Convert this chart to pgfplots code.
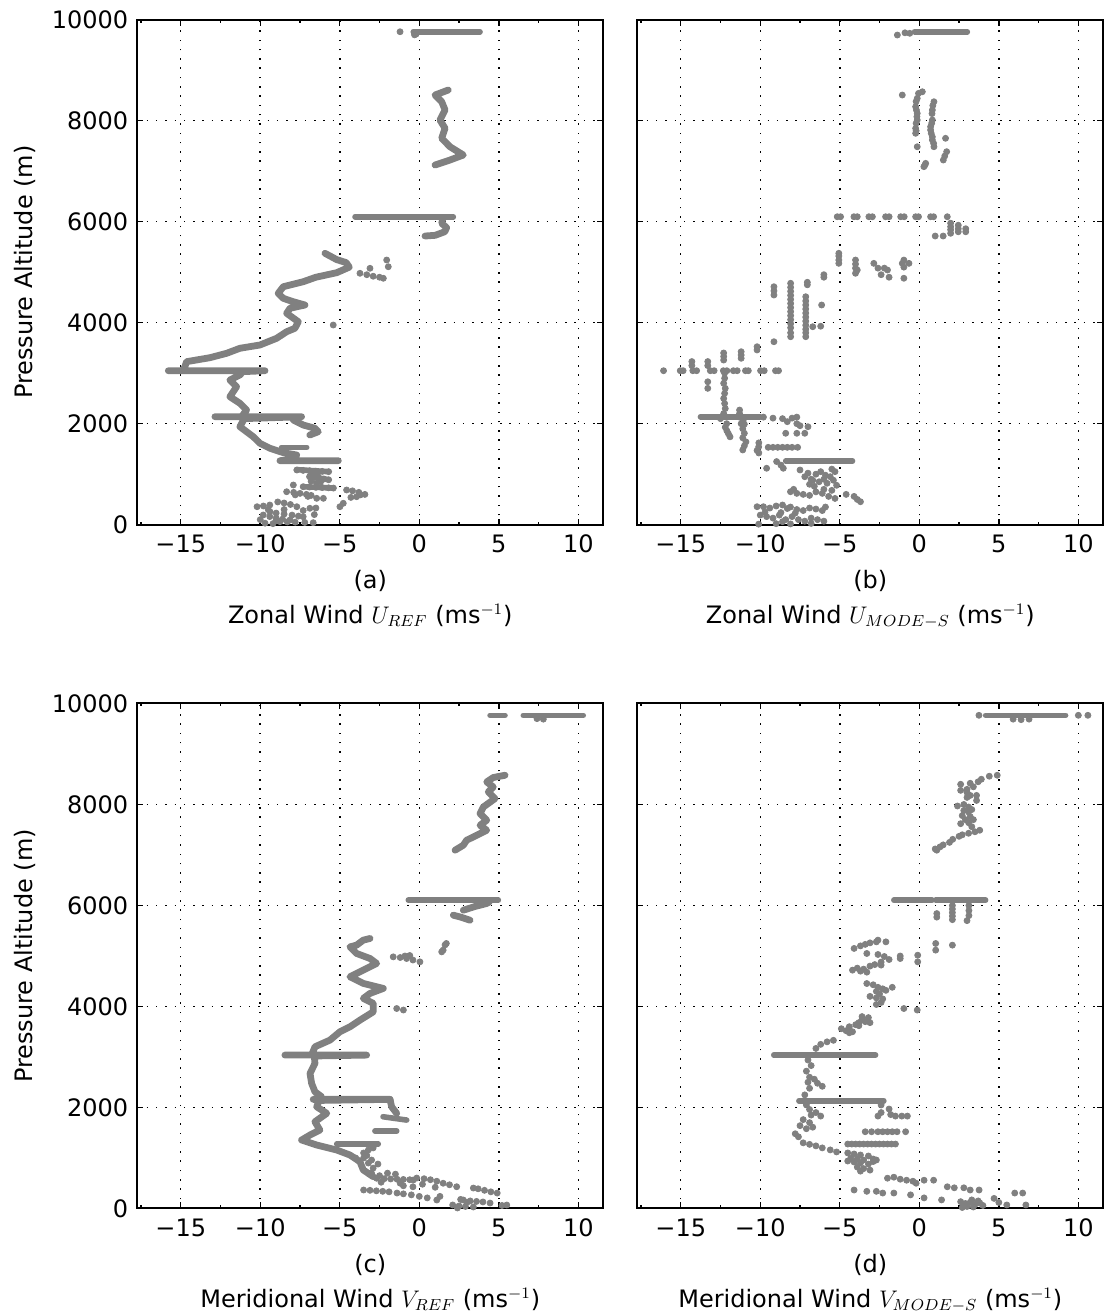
\documentclass[border=0pt]{standalone}
\usepackage{pgfplots}
\pgfplotsset{compat=1.18}
\usepackage{fontspec}
\setmainfont{DejaVu Sans}
\pgfplotsset{
  trace/.style={draw=gray, line width=3.4pt, line cap=round, line join=round, mark=none},
  bar/.style={draw=gray, line width=2.8pt, line cap=round, mark=none},
  dots/.style={only marks, mark=*, mark size=1.5pt, draw=gray, fill=gray, mark options={draw=gray, fill=gray}},
  panel/.style={
    width=233pt, height=252.5pt, scale only axis,
    xmin=-17.73, xmax=11.57, ymin=0, ymax=10000,
    xtick={-15,-10,-5,0,5,10},
    xticklabels={−15,−10,−5,0,5,10},
    minor xtick={-17.5,-12.5,-7.5,-2.5,2.5,7.5},
    ytick={0,2000,4000,6000,8000,10000},
    scaled y ticks=false, scaled x ticks=false,
    tick pos=both, tick align=inside,
    major tick length=3pt, minor tick length=1.5pt,
    every tick/.style={black, line width=0.7pt},
    grid=major,
    major grid style={black, line width=0.75pt, dash pattern=on 0.75pt off 3.9pt},
    axis line style={line width=1pt},
    tick label style={font=\fontsize{12}{14.4}\selectfont},
    label style={font=\fontsize{12}{17.5}\selectfont},
    xlabel style={at={(axis description cs:0.5,-0.076)}, anchor=north, align=center},
    ylabel style={at={(axis description cs:-0.241,0.5)}, anchor=center},
    xticklabel style={yshift=-1.5pt},
    yticklabel style={xshift=-1pt},
  },
}
\begin{document}
\begin{tikzpicture}
\useasboundingbox (0pt,0pt) rectangle (555.5pt,657.5pt);

% ---------------- (a) ----------------
\begin{axis}[panel, at={(68.65pt,395.15pt)}, anchor=south west,
  yticklabels={0,2000,4000,6000,8000,10000},
  ylabel={Pressure Altitude (m)},
  xlabel={(a)\\Zonal Wind $U_{REF}$ (ms$^{-1}$)}]
\addplot[bar] coordinates {(-0.38,9761) (3.82,9761)};
\addplot[dots] coordinates {(-1.21,9761) (-0.3,9700) (-0.2,9715)};
\addplot[trace] coordinates {(1.82,8607) (0.99,8508) (1.41,8375) (1.62,8211) (1.30,8013) (1.62,7849) (1.41,7651) (1.93,7484) (2.77,7320) (1.93,7221) (0.99,7122)};
\addplot[bar] coordinates {(-4.04,6098) (2.14,6098)};
\addplot[trace] coordinates {(1.5,6080) (1.41,5968) (1.72,5880) (1.6,5801) (1.0,5730) (0.36,5716)};
\addplot[dots] coordinates {(-2.05,5241) (-1.95,5108) (-3.1,5077) (-3.73,4978) (-3.3,4950) (-2.9,4920) (-2.5,4900) (-2.26,4879) (-5.41,3954)};
\addplot[trace] coordinates {(-5.93,5374) (-5.2,5250) (-4.6,5190) (-4.4,5100) (-5.19,4990) (-6.5,4900) (-7.3,4811) (-8.55,4712) (-8.87,4581) (-8.55,4482) (-7.92,4415) (-7.19,4350) (-8.13,4285) (-8.34,4186) (-7.61,4019) (-7.82,3889) (-8.34,3821) (-8.97,3691) (-10.02,3558) (-11.28,3493) (-12.11,3394) (-13.16,3307) (-14.63,3228) (-14.74,3128) (-14.9,3049) (-15.78,3049) (-9.70,3049) (-11.1,3030) (-11.28,2964) (-11.91,2865) (-11.49,2732) (-11.91,2534) (-11.28,2404) (-10.86,2271) (-11.17,2138) (-12.85,2138) (-7.40,2138) (-11.0,2100) (-11.28,1940) (-10.44,1742) (-10.02,1612) (-9.39,1513) (-8.55,1426) (-7.71,1380) (-8.34,1281) (-8.76,1267) (-5.09,1267)};
\addplot[trace] coordinates {(-7.92,2073) (-7.30,1974) (-6.56,1909) (-6.35,1841) (-6.88,1776)};
\addplot[bar] coordinates {(-8.66,1532) (-7.08,1532)};
\addplot[bar] coordinates {(-7.7,1090) (-5.7,1050)};
\addplot[bar] coordinates {(-6.9,960) (-5.7,890)};
\addplot[bar] coordinates {(-7.3,752) (-5.4,725)};
\addplot[dots] coordinates {(-7.7,1083) (-7.3,1075) (-6.9,1068) (-6.5,1060) (-6.1,1055) (-5.7,1050) (-6.9,950) (-6.6,935) (-6.3,920) (-6.0,905) (-5.7,890) (-6.7,1000) (-6.4,980) (-6.45,820) (-6.8,860) (-6.2,850) (-7.3,752) (-6.9,745) (-6.5,740) (-6.1,735) (-5.7,730) (-5.4,725) (-4.57,687) (-4.2,670) (-3.8,640) (-3.42,600) (-3.7,590) (-3.94,554) (-4.3,540) (-8.34,653) (-7.9,640) (-7.5,620) (-7.1,600) (-6.8,580) (-6.45,522) (-7.0,560) (-7.8,590) (-7.92,786) (-10.2,356) (-9.8,370) (-9.4,390) (-8.5,430) (-8.1,400) (-7.7,356) (-8.9,450) (-6.88,325) (-6.5,330) (-6.03,522) (-4.99,356) (-4.78,424) (-9.81,192) (-9.4,160) (-9.0,130) (-8.6,110) (-8.13,93) (-9.39,257) (-9.0,230) (-8.5,210) (-8.0,190) (-7.6,170) (-7.3,158) (-8.76,60) (-8.3,55) (-7.8,50) (-7.2,45) (-6.67,40) (-9.5,300) (-9.2,20) (-9.0,80) (-8.5,300) (-7.3,280) (-6.6,200) (-10.0,100) (-9.7,30)};
\end{axis}

% ---------------- (b) ----------------
\begin{axis}[panel, at={(318.65pt,395.15pt)}, anchor=south west,
  yticklabels={},
  xlabel={(b)\\Zonal Wind $U_{MODE-S}$ (ms$^{-1}$)}]
\addplot[bar] coordinates {(-0.3,9761) (3.02,9761)};
\addplot[dots] coordinates {(-1.38,9696) (-0.9,9740) (-0.6,9730)};
\addplot[dots] coordinates {(0.19,8573) (-0.05,8540) (-0.13,8442) (-0.2,8380) (-0.23,8276) (-0.18,8210) (-0.13,8144) (-0.15,8080) (-0.13,8013) (-0.2,7950) (-0.23,7849) (-0.2,7800) (-0.23,7750) (-0.13,7484) (-1.07,8508) (0.92,8375) (0.85,8300) (0.82,8211) (0.8,8140) (0.82,8013) (0.78,7950) (0.71,7880) (0.71,7816) (0.75,7750) (0.82,7680) (0.82,7618) (0.9,7550) (0.92,7484) (1.65,7651) (1.72,7386) (1.6,7300) (1.51,7221) (0.40,7155) (0.29,7089) (0.35,7120)};
\addplot[dots] coordinates {(-5.16,6098) (-4.95,6098) (-4.11,6098) (-3.9,6098) (-3.17,6098) (-2.95,6098) (-2.12,6098) (-1.9,6098) (-1.17,6098) (-0.95,6098) (-0.23,6098) (-0.05,6098) (0.71,6098) (0.9,6098) (1.76,6098) (1.97,5970) (1.97,5900) (1.97,5840) (1.97,5770) (2.45,5930) (2.45,5860) (2.45,5800) (2.92,5860) (2.92,5800) (1.0,5716) (1.5,5716)};
\addplot[dots] coordinates {(-5.06,5374) (-5.06,5320) (-5.06,5241) (-5.06,5175) (-4.01,5241) (-4.01,5160) (-4.01,5080) (-4.01,4978) (-3.9,5043) (-2.86,5175) (-2.6,5080) (-2.2,5080) (-2.0,5043) (-1.9,4900) (-2.4,4950) (-1.07,5175) (-0.97,5240) (-0.97,5100) (-0.97,4880) (-0.65,5175) (-6.0,4900) (-6.0,4950) (-7.04,4800) (-7.04,4750)};
\addplot[dots] coordinates {(-8.09,4780) (-8.09,4700) (-8.09,4620) (-8.09,4540) (-8.09,4460) (-8.09,4380) (-8.09,4300) (-8.09,4220) (-8.09,4140) (-8.09,4060) (-8.09,3980) (-8.09,3900) (-8.09,3800) (-8.09,3722) (-7.14,4514) (-7.14,4430) (-7.14,4350) (-7.14,4270) (-7.14,4190) (-7.14,4110) (-7.14,4030) (-7.14,3950) (-7.14,3870) (-7.14,3800) (-7.14,3722) (-9.14,4712) (-9.14,4630) (-9.14,4548) (-6.14,4350) (-6.7,3920) (-6.2,3930) (-9.14,3623) (-10.2,3524) (-10.2,3460) (-11.2,3425) (-11.2,3360) (-11.2,3295) (-12.3,3400) (-12.3,3330) (-12.3,3260)};
\addplot[dots] coordinates {(-16.08,3049) (-15.03,3049) (-14.85,3049) (-14.24,3049) (-14.0,3049) (-13.14,3049) (-12.9,3049) (-12.32,3049) (-12.1,3049) (-11.69,3049) (-11.45,3049) (-10.93,3049) (-10.75,3049) (-9.98,3049) (-9.75,3049) (-9.04,3049) (-8.85,3049) (-14.3,3230) (-14.3,3150) (-13.3,3230) (-13.3,3150) (-13.3,2830) (-13.3,2700) (-12.24,3000) (-12.24,2900) (-12.3,2800) (-12.2,2700) (-12.24,2600) (-12.3,2500) (-12.24,2400) (-12.2,2300) (-12.3,2200) (-12.5,2100) (-11.3,2270) (-11.3,2200) (-11.3,2130) (-11.2,2000)};
\addplot[bar] coordinates {(-13.76,2138) (-10.0,2138)};
\addplot[dots] coordinates {(-11.07,2073) (-11.0,1990) (-11.1,1900) (-11.0,1810) (-11.1,1720) (-10.9,1640) (-11.0,1560) (-11.1,1480) (-12.11,2000) (-12.2,1930) (-12.1,1860) (-12.0,1800) (-11.9,1740) (-10.09,1620) (-10.1,1540) (-10.2,1470) (-10.09,1420) (-9.8,2130) (-9.2,2110) (-8.6,2100) (-8.0,2110) (-7.7,2130) (-8.3,2040) (-7.7,2000) (-7.0,1940) (-7.5,1960) (-8.4,1810) (-7.7,1810) (-7.2,1810) (-9.5,1532) (-9.2,1532) (-8.9,1532) (-8.6,1532) (-8.3,1532) (-8.0,1532) (-7.65,1532)};
\addplot[bar] coordinates {(-8.4,1261) (-4.2,1261)};
\addplot[dots] coordinates {(-9.6,1117) (-8.97,1250) (-8.7,1180) (-8.55,1117) (-7.5,1083) (-7.2,950) (-6.8,900) (-6.5,1000) (-6.2,1050) (-6.0,900) (-5.8,820) (-5.6,950) (-5.4,880) (-5.2,780) (-5.3,1050) (-5.5,1100) (-6.9,800) (-6.6,760) (-6.3,850) (-5.9,980) (-7.0,1020) (-6.7,880) (-8.1,653) (-7.7,620) (-7.3,600) (-6.9,580) (-6.5,650) (-6.1,620) (-5.7,560) (-5.3,520) (-4.6,600) (-4.1,560) (-3.9,500) (-3.7,455) (-7.9,700) (-6.0,700) (-5.5,680) (-10.2,356) (-9.8,356) (-9.4,330) (-9.0,370) (-8.6,390) (-8.3,320) (-8.1,350) (-7.7,300) (-7.3,280) (-6.9,330) (-6.5,310) (-6.1,280) (-5.9,350) (-10.0,190) (-9.6,160) (-9.2,130) (-8.8,190) (-8.4,100) (-8.0,160) (-7.6,100) (-7.2,70) (-6.8,130) (-6.4,100) (-6.0,70) (-8.6,60) (-10.1,10) (-9.0,20) (-8.1,15) (-6.8,25) (-9.7,250) (-8.7,240) (-7.8,230)};
\end{axis}

% ---------------- (c) ----------------
\begin{axis}[panel, at={(68.65pt,53.25pt)}, anchor=south west,
  yticklabels={0,2000,4000,6000,8000,10000},
  ylabel={Pressure Altitude (m)},
  xlabel={(c)\\Meridional Wind $V_{REF}$ (ms$^{-1}$)}]
\addplot[bar] coordinates {(4.45,9766) (5.39,9766)};
\addplot[bar] coordinates {(6.54,9766) (10.31,9766)};
\addplot[dots] coordinates {(7.4,9700) (7.8,9690)};
\addplot[trace] coordinates {(5.39,8579) (4.65,8534) (4.24,8447) (4.65,8347) (4.34,8249) (4.76,8117) (4.03,7951) (3.82,7821) (4.24,7688) (3.82,7589) (4.24,7490) (3.40,7358) (2.98,7293) (2.77,7194) (2.25,7095)};
\addplot[bar] coordinates {(-0.69,6105) (4.97,6105)};
\addplot[trace] coordinates {(4.4,6070) (4.24,6040) (3.5,5980) (2.77,5907)};
\addplot[trace] coordinates {(2.14,5808) (2.6,5770) (3.19,5709)};
\addplot[dots] coordinates {(1.7,5248) (1.62,5220) (1.5,5116) (1.41,5082) (-1.64,4983) (-1.2,4970) (-0.8,4950) (-0.4,4920) (0.04,4884) (-0.9,5000) (-0.6,5010) (-1.42,3960) (-1.0,3930)};
\addplot[trace] coordinates {(-3.1,5347) (-3.52,5314) (-3.94,5215) (-4.36,5181) (-3.94,5050) (-3.10,4951) (-2.68,4852) (-3.52,4720) (-4.36,4588) (-3.52,4457) (-2.26,4358) (-3.10,4259) (-3.52,4160) (-2.89,4061) (-2.89,3895) (-3.73,3730) (-4.36,3598) (-4.99,3499) (-5.62,3334) (-6.56,3202) (-6.77,3038) (-8.45,3038) (-3.31,3038) (-6.6,3020) (-6.56,2873) (-6.87,2675) (-6.77,2478) (-6.56,2312) (-6.14,2212) (-6.4,2161) (-6.67,2161) (-1.84,2161) (-6.3,2140) (-6.45,2015) (-5.82,1884) (-6.56,1718) (-6.25,1553) (-6.87,1455) (-7.40,1356) (-6.45,1257) (-5.19,1158) (-4.36,1059) (-3.73,926) (-3.52,762) (-2.89,629)};
\addplot[trace] coordinates {(-1.84,2161) (-1.74,2015) (-1.42,1884)};
\addplot[bar] coordinates {(-2.28,1817) (-0.79,1751)};
\addplot[bar] coordinates {(-2.79,1534) (-1.42,1534)};
\addplot[bar] coordinates {(-5.19,1277) (-2.58,1277)};
\addplot[dots] coordinates {(-3.5,1100) (-3.2,1160) (-2.9,1200) (-4.0,1000) (-3.5,1000) (-3.2,900) (-2.9,800) (-3.0,700) (-2.68,598) (-2.2,590) (-1.8,585) (-1.4,580) (-1.0,575) (-0.6,570) (-0.38,564) (-0.16,603) (0.3,590) (0.7,570) (1.1,540) (1.5,500) (1.9,470) (2.35,431) (-3.5,366) (-3.1,360) (-2.7,350) (-2.3,340) (-1.9,330) (-1.4,306) (-1.0,290) (-0.5,270) (0,240) (0.5,210) (1.1,168) (1.3,240) (3.4,405) (3.7,390) (4.1,360) (4.5,330) (4.9,306) (2.77,168) (3.2,150) (3.6,140) (4.0,130) (4.45,108) (2.1,70) (2.5,50) (2.9,40) (3.4,30) (2.4,10) (3.0,120) (2.6,180) (5.5,69) (5.2,60) (-1.0,450) (-0.4,430) (-2.0,700) (-1.5,680) (-2.5,650) (-2.4,520) (-1.2,500) (0.2,480) (1.0,420) (-3.3,1050) (-3.0,960) (-2.6,880)};
\end{axis}

% ---------------- (d) ----------------
\begin{axis}[panel, at={(318.65pt,53.25pt)}, anchor=south west,
  yticklabels={},
  xlabel={(d)\\Meridional Wind $V_{MODE-S}$ (ms$^{-1}$)}]
\addplot[bar] coordinates {(4.17,9766) (9.2,9766)};
\addplot[dots] coordinates {(3.75,9766) (10.0,9766) (10.6,9766) (5.9,9690) (6.4,9680) (6.9,9690)};
\addplot[dots] coordinates {(4.9,8579) (4.4,8560) (3.9,8500) (3.7,8450) (3.2,8420) (2.6,8400) (3.4,8350) (3.0,8300) (2.6,8280) (3.0,8240) (3.2,8180) (3.6,8180) (3.0,8140) (3.6,8080) (2.8,8000) (2.4,7970) (3.1,7950) (3.3,7900) (2.8,7880) (3.1,7850) (2.7,7780) (3.2,7760) (3.4,7700) (2.9,7700) (3.1,7640) (2.6,7620) (3.3,7560) (3.8,7490) (3.5,7460) (3.1,7430) (2.7,7400) (2.5,7370) (2.1,7310) (1.9,7250) (1.5,7200) (1.3,7160) (1.1,7095) (1.0,7120)};
\addplot[bar] coordinates {(-1.6,6105) (0.8,6105)};
\addplot[bar] coordinates {(1.03,6105) (4.17,6105)};
\addplot[dots] coordinates {(1.1,5840) (1.1,5770) (2.08,6000) (2.08,5930) (2.08,5860) (2.08,5790) (2.08,5720) (3.12,6000) (3.12,5900) (3.12,5800) (3.0,5700) (1.03,5248) (2.08,5215) (1.03,5116)};
\addplot[dots] coordinates {(-4.1,5150) (-3.7,5200) (-3.4,5230) (-3.1,5260) (-2.7,5280) (-2.1,5280) (-2.6,5314) (-3.3,5050) (-2.6,5030) (-2.2,4990) (-1.9,4930) (-2.4,4880) (-1.2,5000) (-1.2,4950) (-0.1,5016) (-0.1,4884) (-4.2,4720) (-3.9,4760) (-3.7,4700) (-3.5,4740) (-3.3,4680) (-3.1,4800) (-2.8,4830) (-2.4,4820) (-3.3,4455) (-2.9,4430) (-2.6,4380) (-2.3,4350) (-2.7,4300) (-2.1,4320) (-1.7,4380) (-2.5,4250) (-3.1,4200) (-2.7,4170) (-2.3,4150) (-2.7,4040) (-2.4,4080) (-0.97,3960) (-0.13,3930) (-3.6,3800) (-3.2,3780) (-3.6,3740) (-3.4,3700) (-3.8,3680) (-4.0,3640) (-4.4,3600) (-4.6,3520) (-4.2,3500) (-4.9,3560) (-4.4,3480) (-3.8,3620) (-3.1,3680) (-5.4,3330) (-5.8,3300) (-6.2,3250) (-6.5,3170)};
\addplot[bar] coordinates {(-9.15,3038) (-2.75,3038)};
\addplot[dots] coordinates {(-7.0,2940) (-6.8,2830) (-7.1,2720) (-6.9,2600) (-6.6,2560) (-7.0,2500) (-6.4,2480) (-6.1,2420) (-6.9,2380) (-7.2,2250)};
\addplot[bar] coordinates {(-7.57,2133) (-2.23,2133)};
\addplot[dots] coordinates {(-2.4,2050) (-1.9,1970) (-1.8,1860) (-1.5,1830) (-1.1,1830) (-0.75,1830) (-2.6,1830) (-2.4,1900) (-7.1,2050) (-6.9,1960) (-6.5,1900) (-6.2,1830) (-6.8,1850) (-7.3,1760) (-6.9,1700) (-7.5,1640) (-7.1,1580) (-6.7,1610) (-7.8,1480) (-7.6,1420) (-3.4,1520) (-3.0,1520) (-2.6,1520) (-2.3,1520) (-2.0,1520) (-1.7,1520) (-1.4,1520) (-0.86,1520)};
\addplot[dots] coordinates {(-4.5,1276) (-4.25,1276) (-4.0,1276) (-3.75,1276) (-3.5,1276) (-3.25,1276) (-3.0,1276) (-2.75,1276) (-2.5,1276) (-2.25,1276) (-2.0,1276) (-1.75,1276) (-1.5,1276) (-7.3,1300) (-6.9,1270) (-6.5,1240) (-6.1,1200) (-5.6,1160) (-5.2,1120) (-4.5,1100) (-4.1,1080) (-3.7,1060) (-3.2,1040) (-4.3,1000) (-3.9,980) (-3.5,960) (-2.9,980) (-4.5,940) (-4.1,920) (-3.7,900) (-3.2,880) (-2.9,930) (-2.7,960) (-3.9,820) (-3.5,790) (-3.1,760) (-3.7,740) (-2.0,600) (-1.6,620) (-1.2,580) (-0.8,560) (-0.4,540) (-0.2,500) (0.3,560) (0.9,560) (1.76,430) (2.2,410) (2.8,410) (3.2,366) (3.76,366) (-4.1,366) (-3.3,340) (-2.7,340) (-2.3,306) (-1.6,306) (-0.55,270) (0.3,210) (1.4,170) (2.6,135) (2.9,100) (3.2,120) (3.5,80) (3.8,110) (4.0,60) (3.0,40) (3.4,30) (2.8,60) (3.7,150) (3.3,170) (2.7,20) (4.7,200) (5.0,120) (6.0,306) (6.5,306) (6.7,70) (5.5,70)};
\end{axis}
\end{tikzpicture}
\end{document}
